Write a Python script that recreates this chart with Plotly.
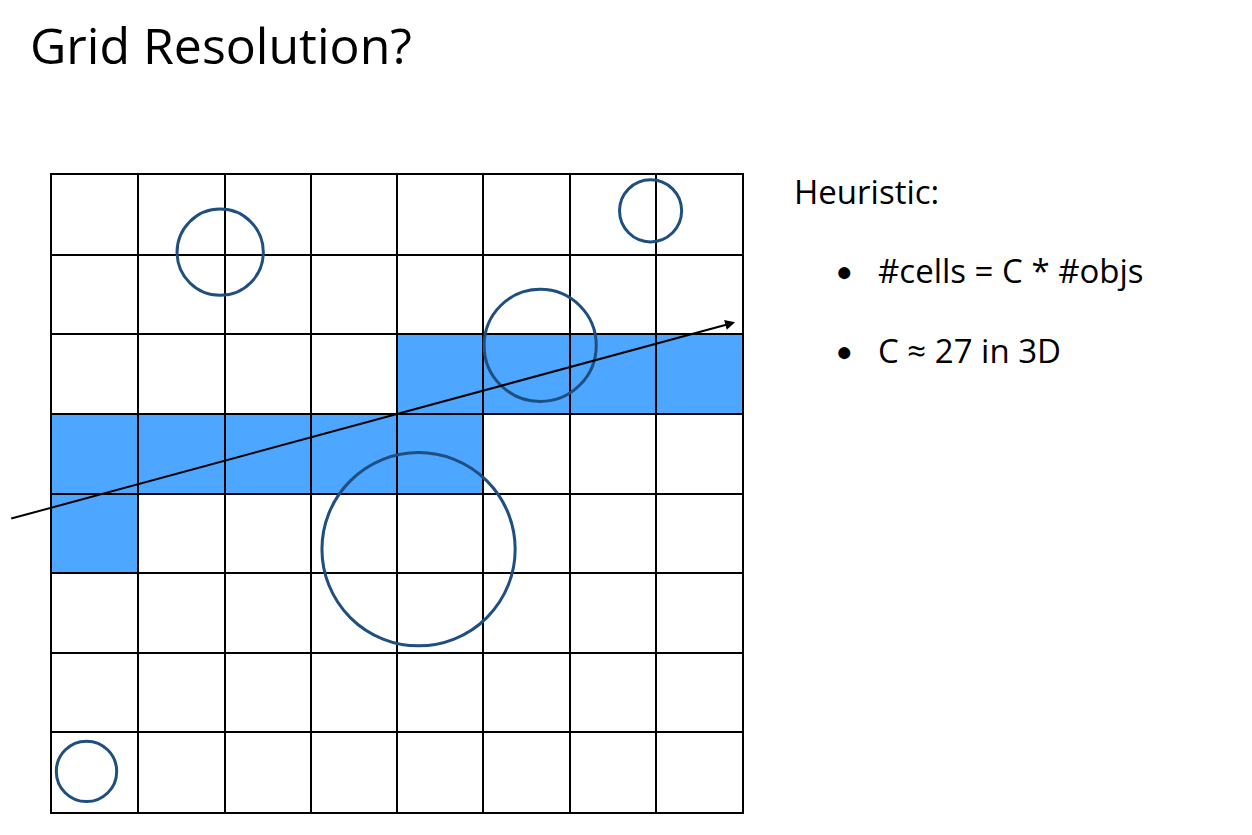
import plotly.graph_objects as go

n_cols, n_rows = 8, 8
filled_cells = [(4, 2), (5, 2), (6, 2), (7, 2), (0, 3), (1, 3), (2, 3), (3, 3), (4, 3), (0, 4)]  # (col,row from top)
circle_cx = [1.95, 6.94, 5.66, 4.25, 0.40]
circle_cy = [0.97, 0.45, 2.14, 4.70, 7.49]
circle_r = [0.50, 0.36, 0.65, 1.12, 0.35]
ray_start = (-0.49, 4.32)
ray_end = (7.92, 1.85)
title = "Grid Resolution?"
heading = "Heuristic:"
bullets = ["#cells = C * #objs", "C ≈ 27 in 3D"]

fig = go.Figure()
fig.add_trace(go.Scatter(x=[0, 8], y=[0, 8], mode="markers", marker=dict(opacity=0), hoverinfo="skip"))
sx, sy = 86.25, 79.6
for c, r in filled_cells:
    fig.add_shape(type="rect", x0=c, x1=c + 1, y0=r, y1=r + 1, fillcolor="#4DA6FF",
                  line_width=0, layer="below")
for cx, cy, rr in zip(circle_cx, circle_cy, circle_r):
    ry = rr * sx / sy
    fig.add_shape(type="circle", x0=cx - rr, x1=cx + rr, y0=cy - ry, y1=cy + ry,
                  line=dict(color="#1F4E80", width=3))
fig.add_annotation(x=ray_end[0], y=ray_end[1], ax=ray_start[0], ay=ray_start[1],
                   xref="x", yref="y", axref="x", ayref="y", text="", showarrow=True,
                   arrowhead=2, arrowsize=1, arrowwidth=2, arrowcolor="black")
font = "Open Sans, Noto Sans, sans-serif"
fig.add_annotation(xref="paper", yref="paper", x=(28 - 52) / 690, y=(812 - 45) / 637,
                   xanchor="left", yanchor="middle", text=title, showarrow=False,
                   font=dict(family=font, size=50, color="black"))
fig.add_annotation(xref="paper", yref="paper", x=(792 - 52) / 690, y=(812 - 192) / 637,
                   xanchor="left", yanchor="middle", text=heading, showarrow=False,
                   font=dict(family=font, size=33, color="black"))
for i, b in enumerate(bullets):
    py = 270 + 80 * i
    fig.add_annotation(xref="paper", yref="paper", x=(834 - 52) / 690, y=(812 - py) / 637,
                       xanchor="left", yanchor="middle", text="●", showarrow=False,
                       font=dict(family=font, size=28, color="black"))
    fig.add_annotation(xref="paper", yref="paper", x=(876 - 52) / 690, y=(812 - py) / 637,
                       xanchor="left", yanchor="middle", text=b, showarrow=False,
                       font=dict(family=font, size=33, color="black"))
ax = dict(showgrid=True, dtick=1, tick0=0, gridcolor="black", gridwidth=2, zeroline=False,
          showline=True, linecolor="black", linewidth=2, mirror=True, showticklabels=False, ticks="")
fig.update_xaxes(range=[0, 8], **ax)
fig.update_yaxes(range=[8, 0], **ax)
fig.update_layout(width=1252, height=835, margin=dict(l=44, r=518, t=167, b=31),
                  plot_bgcolor="white", paper_bgcolor="white", showlegend=False)
fig.write_html("out.html")
